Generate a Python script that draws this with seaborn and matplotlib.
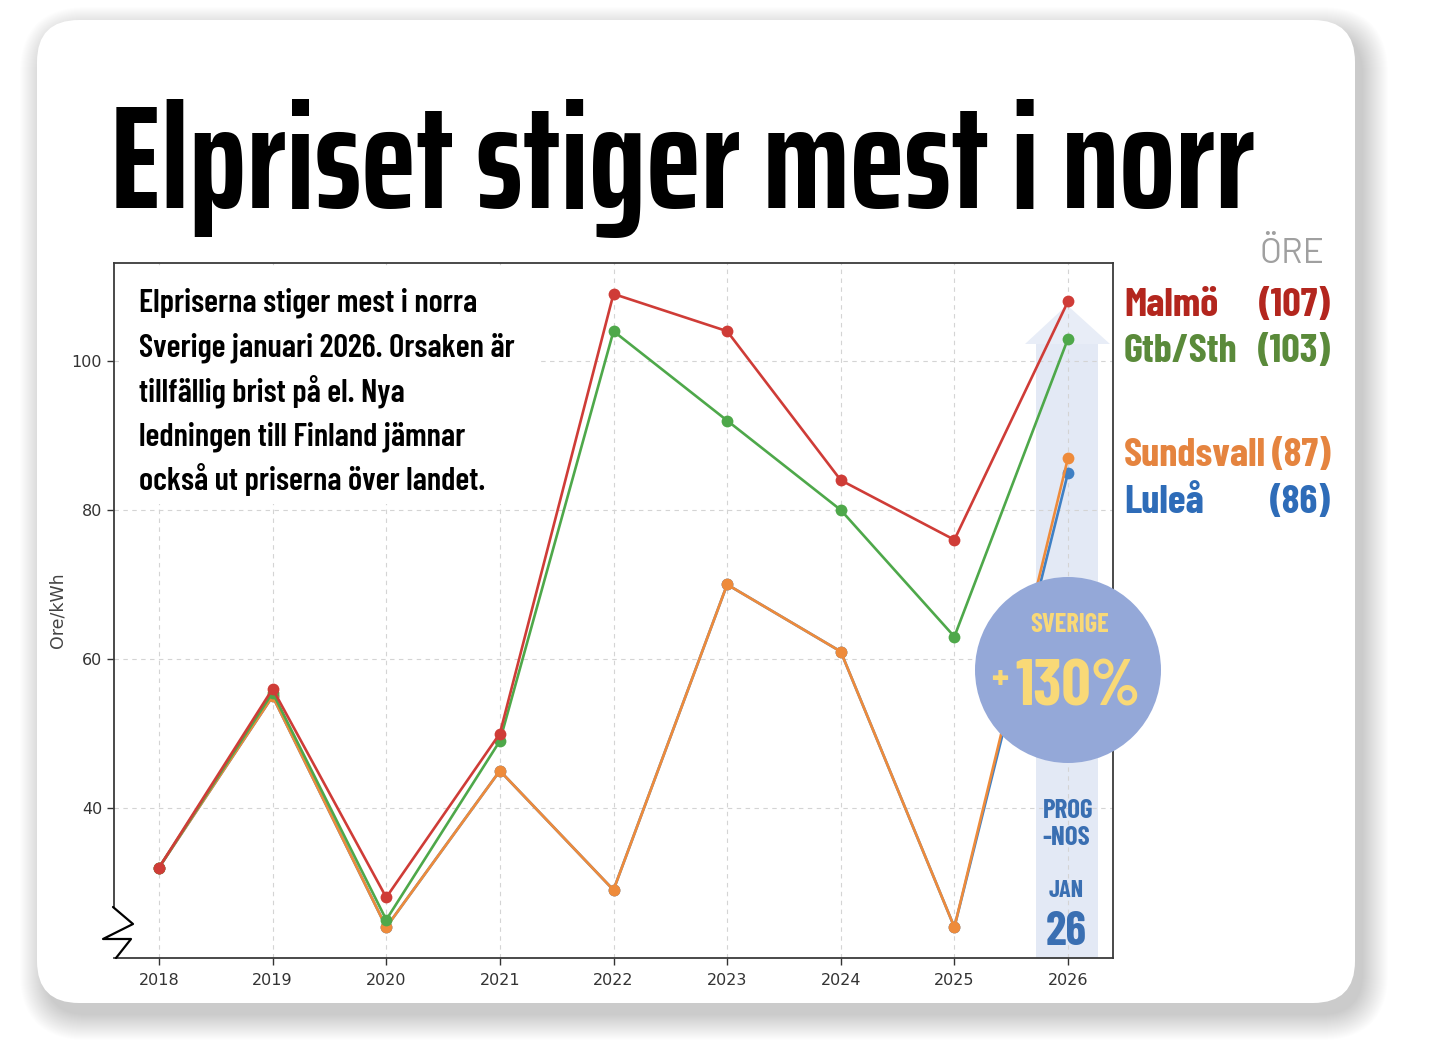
import os
import numpy as np
import pandas as pd
import matplotlib
matplotlib.use("Agg")
import matplotlib.pyplot as plt
import seaborn as sns
from matplotlib import font_manager as fm
from matplotlib.patches import FancyBboxPatch, Circle, Polygon, Rectangle
from matplotlib.lines import Line2D

# ---------------- data ----------------
years = [2018, 2019, 2020, 2021, 2022, 2023, 2024, 2025, 2026]
malmo = [32, 56, 28, 50, 109, 104, 84, 76, 108]
gtb_sth = [32, 55.5, 25, 49, 104, 92, 80, 63, 103]
sundsvall = [32, 55, 24, 45, 29, 70, 61, 24, 87]
lulea = [32, 55, 24, 45, 29, 70, 61, 24, 85]
regions = ["Malmö", "Gtb/Sth", "Sundsvall", "Luleå"]
region_labels = ["(107)", "(103)", "(87)", "(86)"]
y_ticks = [40, 60, 80, 100]
title = "Elpriset stiger mest i norr"
note_lines = ["Elpriserna stiger mest i norra",
              "Sverige januari 2026. Orsaken är",
              "tillfällig brist på el. Nya",
              "ledningen till Finland jämnar",
              "också ut priserna över landet."]
badge_top = "SVERIGE"
badge_value = "130%"

# ---------------- fonts ----------------
_files = fm.findSystemFonts()
_names = {os.path.basename(f).lower(): f for f in _files}

def font(cands, fallback):
    for c in cands:
        for n, f in _names.items():
            if n.startswith(c.lower()):
                return fm.FontProperties(fname=f)
    return fallback

FB = font(["BarlowCondensed-Bold.", "AsapCondensed-Bold.", "NotoSans-ExtraCondensedBold."],
          fm.FontProperties(family="DejaVu Sans", weight="bold"))
FT = font(["SairaExtraCondensed-Bold.", "BarlowCondensed-Bold."], FB)
FS = font(["BarlowCondensed-SemiBold.", "BarlowCondensed-Bold."], FB)
FR = font(["Barlow-Regular.", "BarlowSemiCondensed-Regular.", "OpenSans-Regular."],
          fm.FontProperties(family="DejaVu Sans"))

sns.set_theme(style="whitegrid")
plt.rcParams["font.family"] = ["DejaVu Sans"]

W, H = 1448, 1048
fig = plt.figure(figsize=(W / 100, H / 100), dpi=100)
fig.patch.set_facecolor("white")

# background layer (pixel coords)
bg = fig.add_axes([0, 0, 1, 1], zorder=0)
bg.set_xlim(0, W); bg.set_ylim(H, 0); bg.axis("off")
for i in range(26):
    s = i * 2.0
    bg.add_patch(FancyBboxPatch((37 + 8 - s / 2, 20 + 12 - s / 2), 1318 + s, 983 + s,
                                boxstyle="round,pad=0,rounding_size=%f" % (42 + s / 2),
                                fc="black", ec="none", alpha=0.0095))
bg.add_patch(FancyBboxPatch((37, 20), 1318, 983, boxstyle="round,pad=0,rounding_size=42",
                            fc="white", ec="none"))
# prognosis arrow
arrow_c = "#e3e9f5"
bg.add_patch(Rectangle((1036, 343), 62, 958 - 343, fc=arrow_c, ec="none"))
bg.add_patch(Polygon([(1025, 344), (1110, 344), (1067, 305)], closed=True, fc="#e8edf7", ec="none"))

# ---------------- main axes ----------------
ax = fig.add_axes([114 / W, (H - 958) / H, 999 / W, 695 / H], zorder=2)
ax.patch.set_alpha(0)

df = pd.concat([
    pd.DataFrame({"year": years, "price": vals, "region": name})
    for name, vals in zip(regions, [malmo, gtb_sth, sundsvall, lulea])
], ignore_index=True)

palette = {"Malmö": "#cf3c37", "Gtb/Sth": "#4ea84a", "Sundsvall": "#ee8b3b", "Luleå": "#3f80c4"}
sns.lineplot(data=df, x="year", y="price", hue="region",
             hue_order=["Luleå", "Sundsvall", "Gtb/Sth", "Malmö"], palette=palette,
             marker="o", markersize=8.5, markeredgewidth=0, linewidth=1.9,
             legend=False, ax=ax)

ax.set_xlim(2017.604, 2026.396)
ax.set_ylim(19.87, 113.15)
ax.set_xticks(years)
ax.set_xticklabels([str(y) for y in years])
ax.set_yticks(y_ticks)
ax.set_xlabel("")
ax.set_ylabel("Ore/kWh", fontsize=12.5, color="#444444")
ax.yaxis.set_label_coords(-0.048, 0.5)
ax.grid(True, linestyle=(0, (4, 4)), color="#d4d4d4", linewidth=0.8)
ax.tick_params(axis="both", labelsize=11.5, colors="#333333", length=5, width=1, direction="out",
               left=True, bottom=True)
ax.tick_params(axis="x", pad=6)
for sp in ax.spines.values():
    sp.set_color("#3a3a3a"); sp.set_linewidth(1.3); sp.set_visible(True)
ax.spines["left"].set_bounds(26.7, 113.15)

# ---------------- overlay ----------------
ov = fig.add_axes([0, 0, 1, 1], zorder=3)
ov.set_xlim(0, W); ov.set_ylim(H, 0); ov.axis("off"); ov.patch.set_alpha(0)

renderer = fig.canvas.get_renderer()

def fit(t, width):
    fs = t.get_fontsize()
    w = t.get_window_extent(renderer).width
    t.set_fontsize(fs * width / w)
    return t.get_fontsize()

# axis break zigzag
ov.add_line(Line2D([113, 133, 103, 131, 116], [907, 924, 939, 939, 958], color="black", lw=1.6))

# title
tt = ov.text(110, 208, title, fontproperties=FT, fontsize=100, color="black", ha="left", va="baseline")
fit(tt, 1145)

# note box
ov.add_patch(Rectangle((120, 268), 420, 236, fc="white", ec="none"))
ref = ov.text(139, 356, note_lines[1], fontproperties=FS, fontsize=20, ha="left", va="baseline")
nfs = fit(ref, 374)
ref.remove()
for i, line in enumerate(note_lines):
    ov.text(139, 312 + 44.5 * i, line, fontproperties=FS, fontsize=nfs, color="black",
            ha="left", va="baseline")

# legend labels at right
ore = ov.text(1325, 263, "ÖRE", fontproperties=FR, fontsize=26, color="#a0a0a0", ha="right", va="baseline")
fit(ore, 65)
lab_colors = ["#b3261e", "#5a8a3a", "#e5843f", "#2e6cb8"]
lab_y = [316, 362, 466, 513]
ref = ov.text(1124, 0, "Sundsvall", fontproperties=FB, fontsize=30)
lfs = fit(ref, 142)
ref.remove()
for name, val, c, y in zip(regions, region_labels, lab_colors, lab_y):
    ov.text(1124, y, name, fontproperties=FB, fontsize=lfs, color=c, ha="left", va="baseline")
    ov.text(1331, y, val, fontproperties=FB, fontsize=lfs, color=c, ha="right", va="baseline")

# badge
ov.add_patch(Circle((1068, 670), 93, fc="#94a8d8", ec="none"))
yel = "#f9d977"
t1 = ov.text(1070, 632, badge_top, fontproperties=FB, fontsize=20, color=yel, ha="center", va="baseline")
fit(t1, 79)
t2 = ov.text(1140, 705, badge_value, fontproperties=FB, fontsize=60, color=yel, ha="right", va="baseline")
fit(t2, 125)
ov.text(1000, 680, "+", fontproperties=FB, fontsize=28, color=yel, ha="center", va="center")

# prognosis texts
blue = "#3a6fb2"
p1 = ov.text(1068, 818, "PROG", fontproperties=FB, fontsize=20, color=blue, ha="center", va="baseline")
pfs = fit(p1, 51)
ov.text(1066, 845, "-NOS", fontproperties=FB, fontsize=pfs, color=blue, ha="center", va="baseline")
j = ov.text(1066, 897, "JAN", fontproperties=FB, fontsize=20, color=blue, ha="center", va="baseline")
fit(j, 35)
n = ov.text(1066, 945, "26", fontproperties=FB, fontsize=40, color=blue, ha="center", va="baseline")
fit(n, 41)

fig.savefig("out.png", dpi=100, facecolor="white")
